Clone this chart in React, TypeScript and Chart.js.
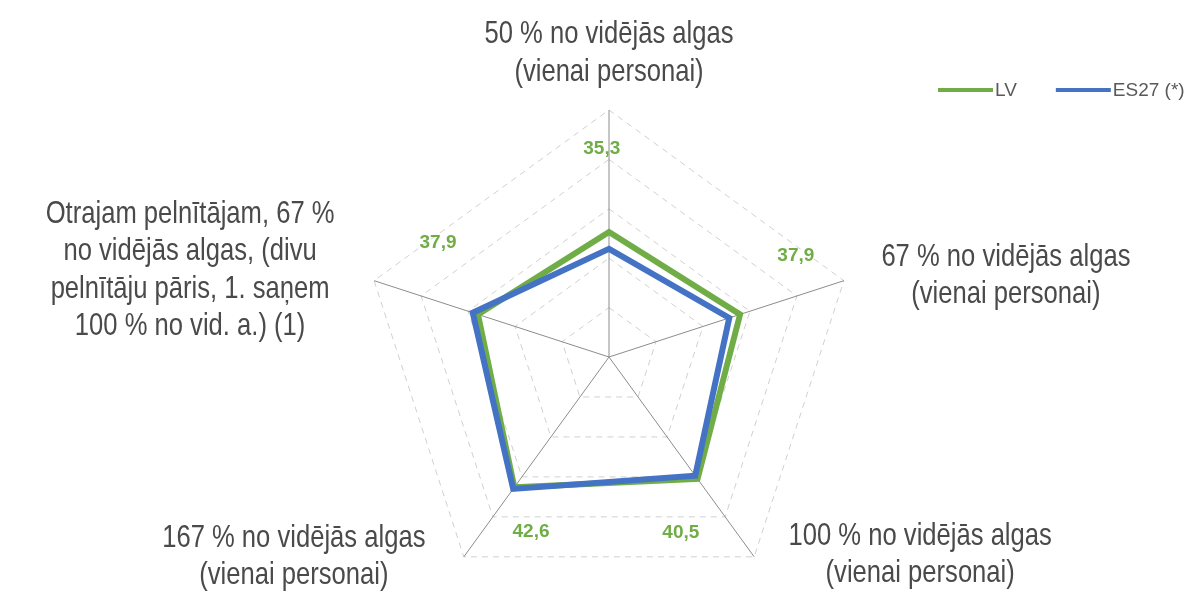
import React, { useEffect, useRef } from "react";
import { Chart, registerables } from "chart.js";

Chart.register(...registerables);

// ---- data ----
const categories: string[][] = [
  ["50 % no vidējās algas", "(vienai personai)"],
  ["67 % no vidējās algas", "(vienai personai)"],
  ["100 % no vidējās algas", "(vienai personai)"],
  ["167 % no vidējās algas", "(vienai personai)"],
  ["Otrajam pelnītājam, 67 %", "no vidējās algas, (divu", "pelnītāju pāris, 1. saņem", "100 % no vid. a.) (1)"],
];
const lvValues = [35.3, 37.9, 40.5, 42.6, 37.9];
const es27Values = [31.9, 35.6, 39.7, 43.0, 39.0];
const seriesNames = ["LV", "ES27 (*)"];
const scaleMin = 10;
const scaleMax = 60;
const scaleStep = 10;

// ---- styles / layout ----
const GREEN = "#70AD47";
const BLUE = "#4472C4";
const TEXT = "#4a4a4a";
const LABEL_FONT = "32px 'Liberation Sans', Arial, sans-serif";
const LABEL_SCALE_X = 0.8;
const LABEL_LINE_H = 37.5;
// offsets of each category label block (center x, first baseline) from the axis end
const labelLayout = [
  { dx: 0, dy: -67 },
  { dx: 162, dy: -15 },
  { dx: 166, dy: -12 },
  { dx: -170, dy: -10 },
  { dx: -184, dy: -58 },
];
// value label placement: angle offset (deg) from axis, radius as fraction of the scale radius
const valueLabelLayout = [
  { a: -2, r: 0.842 },
  { a: -10.4, r: 0.86 },
  { a: 13.8, r: 0.77 },
  { a: -12, r: 0.776 },
  { a: 15.7, r: 0.832 },
];

const decorPlugin = {
  id: "decor",
  afterDatasetsDraw(chart: any) {
    const ctx: CanvasRenderingContext2D = chart.ctx;
    const s = chart.scales.r;
    ctx.save();

    // category labels
    ctx.font = LABEL_FONT;
    ctx.fillStyle = TEXT;
    ctx.textAlign = "center";
    ctx.textBaseline = "alphabetic";
    (chart.data.labels as string[][]).forEach((lines, i) => {
      const p = s.getPointPosition(i, s.drawingArea);
      const lay = labelLayout[i];
      const cx = p.x + lay.dx;
      const y0 = p.y + lay.dy;
      lines.forEach((ln, k) => {
        ctx.save();
        ctx.translate(cx, y0 + k * LABEL_LINE_H);
        ctx.scale(LABEL_SCALE_X, 1);
        ctx.fillText(ln, 0, 0);
        ctx.restore();
      });
    });

    // value labels (LV series)
    const lvData = chart.data.datasets[0].data as number[];
    ctx.font = "bold 19px 'Liberation Sans', Arial, sans-serif";
    ctx.fillStyle = GREEN;
    ctx.textBaseline = "middle";
    lvData.forEach((v, i) => {
      const lay = valueLabelLayout[i];
      const ang = s.getIndexAngle(i) - Math.PI / 2 + (lay.a * Math.PI) / 180;
      const r = s.drawingArea * lay.r;
      const x = s.xCenter + Math.cos(ang) * r;
      const y = s.yCenter + Math.sin(ang) * r;
      ctx.fillText(v.toFixed(1).replace(".", ","), x, y);
    });

    // legend
    ctx.font = "19px 'Liberation Sans', Arial, sans-serif";
    ctx.textAlign = "left";
    ctx.textBaseline = "middle";
    let x = 938;
    const ly = 90;
    chart.data.datasets.forEach((ds: any) => {
      ctx.strokeStyle = ds.borderColor;
      ctx.lineWidth = 4;
      ctx.beginPath();
      ctx.moveTo(x, ly);
      ctx.lineTo(x + 55, ly);
      ctx.stroke();
      x += 57;
      ctx.fillStyle = "#595959";
      ctx.fillText(ds.label, x, ly + 1);
      x += ctx.measureText(ds.label).width + 39;
    });

    ctx.restore();
  },
};

export default function App() {
  const ref = useRef<HTMLCanvasElement | null>(null);
  useEffect(() => {
    if (!ref.current) return;
    const chart = new Chart(ref.current, {
      type: "radar",
      data: {
        labels: categories as any,
        datasets: [
          {
            label: seriesNames[0],
            data: lvValues,
            borderColor: GREEN,
            backgroundColor: "rgba(0,0,0,0)",
            borderWidth: 6,
            pointRadius: 0,
            fill: false,
            order: 1,
            borderJoinStyle: "miter",
          },
          {
            label: seriesNames[1],
            data: es27Values,
            borderColor: BLUE,
            backgroundColor: "rgba(0,0,0,0)",
            borderWidth: 6,
            pointRadius: 0,
            fill: false,
            order: 0,
            borderJoinStyle: "miter",
          },
        ],
      },
      options: {
        responsive: true,
        maintainAspectRatio: false,
        animation: false,
        layout: { padding: { top: 110, left: 20, right: 0, bottom: 0 } },
        plugins: { legend: { display: false }, tooltip: { enabled: false } },
        scales: {
          r: {
            min: scaleMin,
            max: scaleMax,
            ticks: { stepSize: scaleStep, display: false },
            pointLabels: { display: false },
            grid: { color: "#d0d0d0", lineWidth: 1 },
            border: { dash: [6, 5] },
            angleLines: { color: "#8c8c8c", lineWidth: 1 },
          },
        },
      },
      plugins: [decorPlugin],
    } as any);
    return () => chart.destroy();
  }, []);
  return (
    <div style={{ position: "fixed", left: 0, top: 0, width: 1198, height: 605, background: "#fff" }}>
      <canvas ref={ref} />
    </div>
  );
}
